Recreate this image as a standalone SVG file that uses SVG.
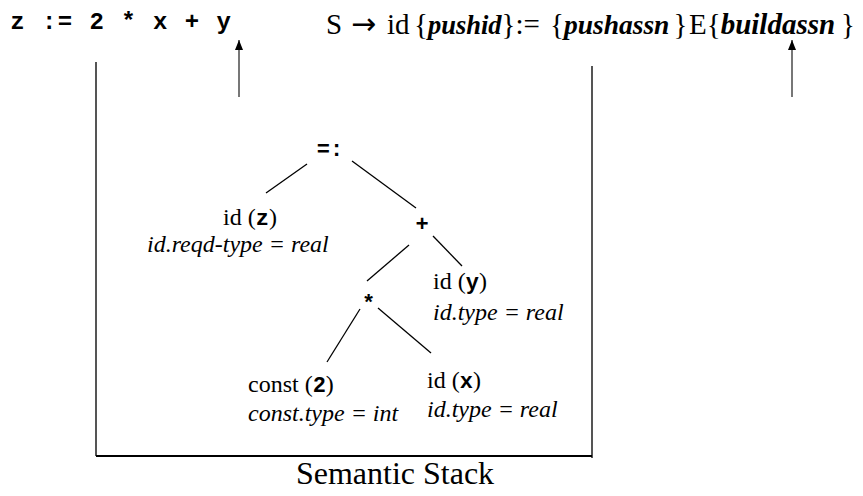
<svg xmlns="http://www.w3.org/2000/svg" width="863" height="496" viewBox="0 0 863 496">
<style>
.tm{font-family:"Liberation Serif","Times New Roman",serif;fill:#000}
.mono{font-family:"Liberation Mono","Courier New",monospace;font-weight:bold;fill:#000}
.it{font-style:italic}
.bi{font-style:italic;font-weight:bold}
.edge{stroke:#000;stroke-width:1.3;fill:none}
.stack{stroke:#555;stroke-width:2;fill:none}
.arr{stroke:#555;stroke-width:1.6;fill:none;marker-end:url(#ah)}
</style>
<defs>
<marker id="ah" markerWidth="10" markerHeight="8" refX="10" refY="4" orient="auto" markerUnits="userSpaceOnUse" viewBox="0 0 10 8">
<path d="M0,0 L10,4 L0,8 Z" fill="#000"/>
</marker>
</defs>
<rect width="863" height="496" fill="#fff"/>
<g id="header-input">
<text class="mono" x="10.3" y="29" font-size="24" letter-spacing="1.45">z := 2 * x + y</text>
</g>
<g id="header-production">
<text class="tm" y="34" font-size="29"><tspan x="326">S</tspan><tspan x="351" font-family="DejaVu Sans" font-size="30">→</tspan><tspan x="387">id</tspan><tspan x="414">{</tspan><tspan class="bi" font-size="26.5">pushid</tspan>}:=<tspan x="550">{</tspan><tspan class="bi" font-size="27.5">pushassn</tspan><tspan dx="4">}</tspan><tspan x="689">E{</tspan><tspan class="bi" font-size="29">buildassn</tspan><tspan dx="6">}</tspan></text>
</g>
<g id="stack">
<path class="stack" d="M96,62 V456"/>
<path class="stack" d="M592,66 V458"/>
<path d="M96,456 H592" stroke="#000" stroke-width="2"/>
<text class="tm" x="395" y="484" font-size="32" text-anchor="middle">Semantic Stack</text>
</g>
<g id="node-assign">
<text class="mono" x="330" y="156" font-size="22" text-anchor="middle">=:</text>
</g>
<g id="node-idz">
<text class="tm" x="223" y="225" font-size="24">id (<tspan class="mono" font-size="22">z</tspan>)</text>
<text class="tm it" x="147" y="252" font-size="24">id.reqd-type = real</text>
</g>
<g id="node-plus">
<text class="mono" x="422" y="231" font-size="22" text-anchor="middle">+</text>
</g>
<g id="node-idy">
<text class="tm" x="433" y="289" font-size="24">id (<tspan class="mono" font-size="22">y</tspan>)</text>
<text class="tm it" x="433" y="320" font-size="24">id.type = real</text>
</g>
<g id="node-times">
<text class="mono" x="368.5" y="310" font-size="22" text-anchor="middle">*</text>
</g>
<g id="node-const2">
<text class="tm" x="248" y="392" font-size="24">const (<tspan class="mono" font-size="22">2</tspan>)</text>
<text class="tm it" x="248" y="421" font-size="24">const.type = int</text>
</g>
<g id="node-idx">
<text class="tm" x="427" y="388" font-size="24">id (<tspan class="mono" font-size="22">x</tspan>)</text>
<text class="tm it" x="427" y="417" font-size="24">id.type = real</text>
</g>
<g id="connectors">
<line class="edge" x1="307" y1="164" x2="266" y2="193"/>
<line class="edge" x1="352" y1="161" x2="416" y2="208"/>
<line class="edge" x1="409" y1="245" x2="367" y2="281"/>
<line class="edge" x1="433" y1="236" x2="462" y2="266"/>
<line class="edge" x1="360" y1="309" x2="327" y2="362"/>
<line class="edge" x1="378" y1="308" x2="431" y2="353"/>
<line class="arr" x1="239" y1="97" x2="239" y2="40"/>
<line class="arr" x1="792" y1="97" x2="792" y2="40"/>
</g>
</svg>
